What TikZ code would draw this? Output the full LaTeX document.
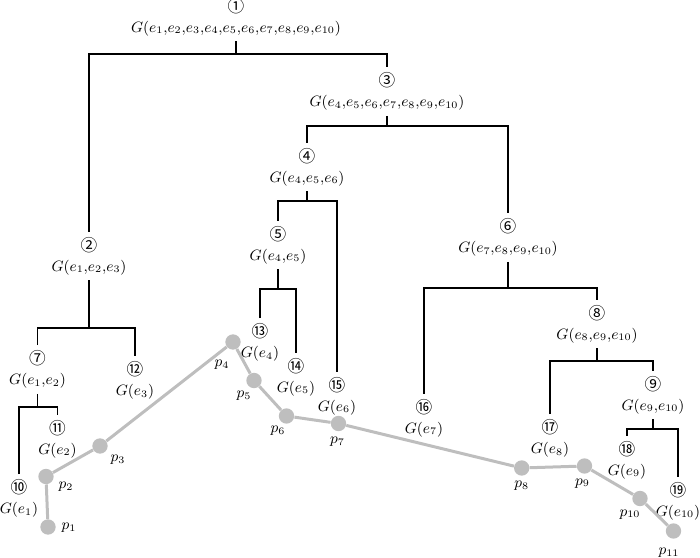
\documentclass[tikz,border=0pt]{standalone}
\usepackage{fontspec}
\usepackage{tikz}
\usetikzlibrary{math}
\newfontfamily\cjk{Noto Sans CJK SC}
\definecolor{ptgray}{RGB}{190,190,190}
\newcommand{\cn}[1]{{\cjk\fontsize{10}{11}\selectfont #1}}
\newcommand{\cm}{{,}}

\begin{document}
\begin{tikzpicture}[x=0.6pt,y=-0.6pt,
  tree/.style={align=center,inner xsep=1pt,inner ysep=3pt,font=\fontsize{9}{12}\selectfont},
  branch/.style={line width=0.9pt},
  route/.style={line width=1.8pt,color=ptgray},
  pt/.style={circle,fill=ptgray,inner sep=0pt,minimum size=9.2pt},
  plbl/.style={inner sep=0pt,font=\fontsize{9}{12}\selectfont}]
\useasboundingbox (0,0) rectangle (700,558);

% inner nodes of the tree
\node[tree] (t1) at (236,17) {\cn{①}\\$G(e_{1}\cm e_{2}\cm e_{3}\cm e_{4}\cm e_{5}\cm e_{6}\cm e_{7}\cm e_{8}\cm e_{9}\cm e_{10})$};
\node[tree] (t2) at (89,256) {\cn{②}\\$G(e_{1}\cm e_{2}\cm e_{3})$};
\node[tree] (t3) at (387,91.5) {\cn{③}\\$G(e_{4}\cm e_{5}\cm e_{6}\cm e_{7}\cm e_{8}\cm e_{9}\cm e_{10})$};
\node[tree] (t4) at (307,167) {\cn{④}\\$G(e_{4}\cm e_{5}\cm e_{6})$};
\node[tree] (t5) at (278,245) {\cn{⑤}\\$G(e_{4}\cm e_{5})$};
\node[tree] (t6) at (508,237.5) {\cn{⑥}\\$G(e_{7}\cm e_{8}\cm e_{9}\cm e_{10})$};
\node[tree] (t7) at (37.5,369.5) {\cn{⑦}\\$G(e_{1}\cm e_{2})$};
\node[tree] (t8) at (597,324) {\cn{⑧}\\$G(e_{8}\cm e_{9}\cm e_{10})$};
\node[tree] (t9) at (653,395) {\cn{⑨}\\$G(e_{9}\cm e_{10})$};

% leaves
\node[tree] (t10) at (19,498.5) {\cn{⑩}\\$G(e_{1})$};
\node[tree] (t11) at (57.5,439) {\cn{⑪}\\$G(e_{2})$};
\node[tree] (t12) at (135,380.5) {\cn{⑫}\\$G(e_{3})$};
\node[tree] (t13) at (260,342.5) {\cn{⑬}\\$G(e_{4})$};
\node[tree] (t14) at (296,377) {\cn{⑭}\\$G(e_{5})$};
\node[tree] (t15) at (337,396) {\cn{⑮}\\$G(e_{6})$};
\node[tree] (t16) at (424,418) {\cn{⑯}\\$G(e_{7})$};
\node[tree] (t17) at (550,438.3) {\cn{⑰}\\$G(e_{8})$};
\node[tree] (t18) at (627,460) {\cn{⑱}\\$G(e_{9})$};
\node[tree] (t19) at (678,501) {\cn{⑲}\\$G(e_{10})$};

% joints
\coordinate (j1) at (236,54);
\coordinate (j2) at (89,328);
\coordinate (j3) at (387,126);
\coordinate (j4) at (307,201);
\coordinate (j5) at (278,289);
\coordinate (j6) at (508,288);
\coordinate (j7) at (37.5,407);
\coordinate (j8) at (597,361);
\coordinate (j9) at (653,429);

\draw[branch] (t1.south) -- (j1);
\draw[branch] (t2.north) |- (j1) -| (t3.north);
\draw[branch] (t3.south) -- (j3);
\draw[branch] (t4.north) |- (j3) -| (t6.north);
\draw[branch] (t4.south) -- (j4);
\draw[branch] (t5.north) |- (j4) -| (t15.north);
\draw[branch] (t5.south) -- (j5);
\draw[branch] (t13.north) |- (j5) -| (t14.north);
\draw[branch] (t6.south) -- (j6);
\draw[branch] (t16.north) |- (j6) -| (t8.north);
\draw[branch] (t2.south) -- (j2);
\draw[branch] (t7.north) |- (j2) -| (t12.north);
\draw[branch] (t7.south) -- (j7);
\draw[branch] (t10.north) |- (j7) -| (t11.north);
\draw[branch] (t8.south) -- (j8);
\draw[branch] (t17.north) |- (j8) -| (t9.north);
\draw[branch] (t9.south) -- (j9);
\draw[branch] (t18.north) |- (j9) -| (t19.north);

% route points
\node[pt] (p1) at (48,527) {};
\node[pt] (p2) at (46,476.5) {};
\node[pt] (p3) at (100,446) {};
\node[pt] (p4) at (233,342) {};
\node[pt] (p5) at (254,380.5) {};
\node[pt] (p6) at (286.5,416) {};
\node[pt] (p7) at (338.5,423.5) {};
\node[pt] (p8) at (521.7,468) {};
\node[pt] (p9) at (584.5,466) {};
\node[pt] (p10) at (640,498.5) {};
\node[pt] (p11) at (673.5,531) {};
\draw[route] (p1) -- (p2) -- (p3) -- (p4) -- (p5) -- (p6) -- (p7) -- (p8) -- (p9) -- (p10) -- (p11);

\node[plbl] (l1) at (69,528) {$p_{1}$};
\node[plbl] (l2) at (66,487) {$p_{2}$};
\node[plbl] (l3) at (118,460) {$p_{3}$};
\node[plbl] (l4) at (222,365) {$p_{4}$};
\node[plbl] (l5) at (244,396) {$p_{5}$};
\node[plbl] (l6) at (278,431) {$p_{6}$};
\node[plbl] (l7) at (337.5,442) {$p_{7}$};
\node[plbl] (l8) at (521.7,486) {$p_{8}$};
\node[plbl] (l9) at (582.5,483.5) {$p_{9}$};
\node[plbl] (l10) at (630,514.5) {$p_{10}$};
\node[plbl] (l11) at (669,553) {$p_{11}$};

\end{tikzpicture}
\end{document}
